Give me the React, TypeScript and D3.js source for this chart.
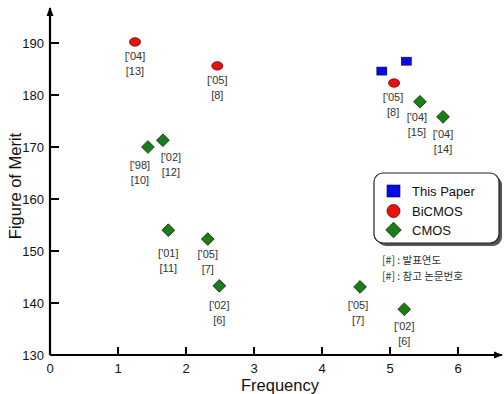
import React, { useEffect, useRef } from "react";
import * as d3 from "d3";

// data
const paperFreq = [4.88, 5.24];
const paperFom = [184.6, 186.5];

const bicmosFreq = [1.25, 2.46, 5.06];
const bicmosFom = [190.2, 185.6, 182.3];
const bicmosYear = ["['04]", "['05]", "['05]"];
const bicmosRef = ["[13]", "[8]", "[8]"];
const bicmosDx = [0, 0, -1];

const cmosFreq = [1.44, 1.66, 1.74, 2.32, 2.49, 5.44, 5.78, 4.56, 5.21];
const cmosFom = [170.0, 171.3, 154.0, 152.3, 143.3, 178.7, 175.8, 143.1, 138.8];
const cmosYear = ["['98]", "['02]", "['01]", "['05]", "['02]", "['04]", "['04]", "['05]", "['02]"];
const cmosRef = ["[10]", "[12]", "[11]", "[7]", "[6]", "[15]", "[14]", "[7]", "[6]"];
const cmosDx = [-8, 8, 0, 0, 0, -3, 0, -2, 0];
const cmosDy = [18, 17, 23, 15, 19, 15, 17, 18, 17];

const xTicks = [0, 1, 2, 3, 4, 5, 6];
const yTicks = [130, 140, 150, 160, 170, 180, 190];
const legendNames = ["This Paper", "BiCMOS", "CMOS"];
const noteLines = ["[#] : 발표연도", "[#] : 참고 논문번호"];

const W = 504;
const H = 394;
const BLUE = "#0a0ae6";
const RED = "#e81010";
const GREEN = "#1c7c18";
const FONT = "Arial, 'Liberation Sans', sans-serif";

export default function App() {
  const ref = useRef<SVGSVGElement>(null);

  useEffect(() => {
    document.body.style.margin = "0";
    const svg = d3.select(ref.current);
    svg.selectAll("*").remove();

    const x = d3.scaleLinear().domain([0, 6]).range([50, 458]);
    const y = d3.scaleLinear().domain([130, 190]).range([355, 43]);

    // arrow marker
    svg.append("defs").append("marker")
      .attr("id", "arr")
      .attr("viewBox", "0 0 10 10")
      .attr("refX", 9).attr("refY", 5)
      .attr("markerWidth", 4).attr("markerHeight", 4)
      .attr("orient", "auto")
      .append("path").attr("d", "M0,1 L10,5 L0,9 z").attr("fill", "#000");

    // axes lines
    svg.append("line")
      .attr("x1", x(0)).attr("y1", y(130)).attr("x2", 502).attr("y2", y(130))
      .attr("stroke", "#000").attr("stroke-width", 2.2).attr("marker-end", "url(#arr)");
    svg.append("line")
      .attr("x1", x(0)).attr("y1", y(130)).attr("x2", x(0)).attr("y2", 8)
      .attr("stroke", "#000").attr("stroke-width", 2.2).attr("marker-end", "url(#arr)");

    // x ticks
    svg.selectAll(".xt").data(xTicks.filter(d => d > 0)).join("line")
      .attr("x1", d => x(d)).attr("x2", d => x(d))
      .attr("y1", y(130)).attr("y2", y(130) - 8)
      .attr("stroke", "#000").attr("stroke-width", 2);
    svg.selectAll(".xl").data(xTicks).join("text")
      .attr("x", d => x(d)).attr("y", 373)
      .attr("text-anchor", "middle")
      .attr("font-family", FONT).attr("font-size", 13).attr("fill", "#111")
      .text(d => d);

    // y ticks
    svg.selectAll(".yt").data(yTicks.filter(d => d > 130)).join("line")
      .attr("x1", x(0)).attr("x2", x(0) + 9)
      .attr("y1", d => y(d)).attr("y2", d => y(d))
      .attr("stroke", "#000").attr("stroke-width", 2);
    svg.selectAll(".yl").data(yTicks).join("text")
      .attr("x", 44).attr("y", d => y(d) + 5)
      .attr("text-anchor", "end")
      .attr("font-family", FONT).attr("font-size", 13).attr("fill", "#111")
      .text(d => d);

    // axis titles
    svg.append("text")
      .attr("x", 280).attr("y", 391).attr("text-anchor", "middle")
      .attr("font-family", FONT).attr("font-size", 16.5).attr("fill", "#111")
      .text("Frequency");
    svg.append("text")
      .attr("transform", `translate(21,${186}) rotate(-90)`)
      .attr("text-anchor", "middle")
      .attr("font-family", FONT).attr("font-size", 16.5).attr("fill", "#111")
      .text("Figure of Merit");

    const labelStyle = (sel: any) => sel
      .attr("text-anchor", "middle")
      .attr("font-family", FONT).attr("font-size", 11).attr("fill", "#333");

    // BiCMOS points
    bicmosFreq.forEach((f, i) => {
      svg.append("ellipse")
        .attr("cx", x(f)).attr("cy", y(bicmosFom[i]))
        .attr("rx", 5.5).attr("ry", 4.2)
        .attr("fill", RED).attr("stroke", "#600").attr("stroke-width", 0.8);
      svg.append("text").call(labelStyle)
        .attr("x", x(f) + bicmosDx[i]).attr("y", y(bicmosFom[i]) + 18)
        .text(bicmosYear[i]);
      svg.append("text").call(labelStyle)
        .attr("x", x(f) + bicmosDx[i]).attr("y", y(bicmosFom[i]) + 33)
        .text(bicmosRef[i]);
    });

    // CMOS points
    cmosFreq.forEach((f, i) => {
      const cx = x(f), cy = y(cmosFom[i]);
      svg.append("rect")
        .attr("x", -4.5).attr("y", -4.5).attr("width", 9).attr("height", 9)
        .attr("transform", `translate(${cx},${cy}) rotate(45)`)
        .attr("fill", GREEN).attr("stroke", "#0a300a").attr("stroke-width", 0.8);
      svg.append("text").call(labelStyle)
        .attr("x", cx + cmosDx[i]).attr("y", cy + cmosDy[i] + 4)
        .text(cmosYear[i]);
      svg.append("text").call(labelStyle)
        .attr("x", cx + cmosDx[i]).attr("y", cy + cmosDy[i] + 19)
        .text(cmosRef[i]);
    });

    // This paper points
    paperFreq.forEach((f, i) => {
      svg.append("rect")
        .attr("x", x(f) - 5).attr("y", y(paperFom[i]) - 4)
        .attr("width", 10).attr("height", 8)
        .attr("fill", BLUE).attr("stroke", "#000060").attr("stroke-width", 0.6);
    });

    // legend
    const lg = svg.append("g").attr("transform", "translate(374,173)");
    lg.append("rect").attr("x", 3).attr("y", 3).attr("width", 125).attr("height", 70)
      .attr("rx", 9).attr("fill", "#555");
    lg.append("rect").attr("x", 0).attr("y", 0).attr("width", 125).attr("height", 70)
      .attr("rx", 9).attr("fill", "#fff").attr("stroke", "#222").attr("stroke-width", 1.2);
    const rowY = [18, 38, 57];
    legendNames.forEach((name, i) => {
      const cy = rowY[i];
      if (i === 0) {
        lg.append("rect").attr("x", 13).attr("y", cy - 6).attr("width", 13).attr("height", 12)
          .attr("fill", BLUE).attr("stroke", "#000060").attr("stroke-width", 0.6);
      } else if (i === 1) {
        lg.append("circle").attr("cx", 19.5).attr("cy", cy).attr("r", 6.5)
          .attr("fill", RED).attr("stroke", "#600").attr("stroke-width", 0.8);
      } else {
        lg.append("rect").attr("x", -5.5).attr("y", -5.5).attr("width", 11).attr("height", 11)
          .attr("transform", `translate(19.5,${cy}) rotate(45)`)
          .attr("fill", GREEN).attr("stroke", "#0a300a").attr("stroke-width", 0.8);
      }
      lg.append("text").attr("x", 38).attr("y", cy + 5)
        .attr("font-family", FONT).attr("font-size", 13).attr("fill", "#111")
        .text(name);
    });

    // notes
    noteLines.forEach((t, i) => {
      svg.append("text").attr("x", 382).attr("y", 264 + i * 16)
        .attr("font-family", "'Noto Sans CJK KR', sans-serif").attr("font-size", 10.5).attr("fill", "#333")
        .text(t);
    });
  }, []);

  return (
    <div style={{ position: "absolute", left: 0, top: 0 }}>
      <svg ref={ref} width={W} height={H} style={{ display: "block", background: "#fff" }} />
    </div>
  );
}
